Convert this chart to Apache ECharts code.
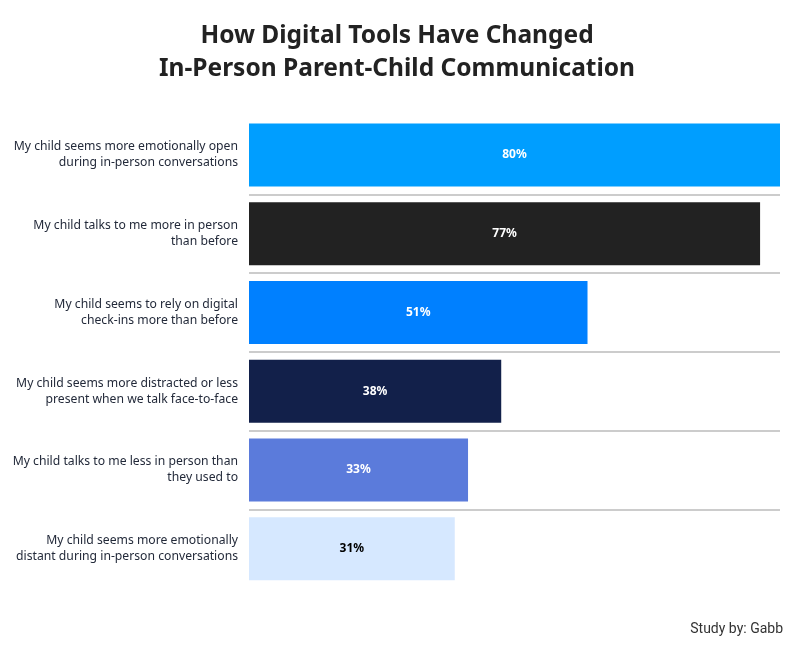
<!DOCTYPE html>
<html>
<head>
<meta charset="utf-8">
<script src="https://cdn.jsdelivr.net/npm/echarts@6/dist/echarts.min.js"></script>
<style>html,body{margin:0;padding:0;background:#fff}#c{width:794px;height:649px}</style>
</head>
<body>
<div id="c"></div>
<script>
const categories = [
  "My child seems more emotionally open\nduring in-person conversations",
  "My child talks to me more in person\nthan before",
  "My child seems to rely on digital\ncheck-ins more than before",
  "My child seems more distracted or less\npresent when we talk face-to-face",
  "My child talks to me less in person than\nthey used to",
  "My child seems more emotionally\ndistant during in-person conversations"
];
const values = [80, 77, 51, 38, 33, 31];
const barColors = ["#009EFF", "#222222", "#0080FF", "#12204A", "#5B7BDB", "#D6E8FF"];
const labelColors = ["#ffffff", "#ffffff", "#ffffff", "#ffffff", "#ffffff", "#000000"];

const chart = echarts.init(document.getElementById('c'), null, {renderer: 'canvas'});
chart.setOption({
  backgroundColor: '#ffffff',
  title: {
    text: 'How Digital Tools Have Changed\nIn-Person Parent-Child Communication',
    left: 'center',
    top: 15,
    textStyle: {
      fontFamily: 'Noto Sans',
      fontWeight: 'bold',
      fontSize: 24.5,
      lineHeight: 33,
      color: '#222222'
    }
  },
  graphic: [{
    type: 'text',
    right: 11,
    top: 622,
    style: {
      text: 'Study by: Gabb',
      font: '14px Roboto',
      fill: '#333333'
    }
  }],
  grid: {left: 249, right: 14, top: 115.6, bottom: 61, containLabel: false},
  xAxis: {
    type: 'value',
    min: 0,
    max: 80,
    show: false
  },
  yAxis: {
    type: 'category',
    inverse: true,
    data: categories,
    axisLine: {show: false},
    axisTick: {show: false},
    axisLabel: {
      margin: 11,
      fontFamily: 'Noto Sans',
      fontSize: 12.2,
      lineHeight: 16,
      color: '#232a3a',
      align: 'right'
    },
    splitLine: {
      show: true,
      showMinLine: false,
      showMaxLine: false,
      lineStyle: {color: '#cccccc', width: 2}
    }
  },
  series: [{
    type: 'bar',
    barCategoryGap: '20%',
    data: values.map((v, i) => ({
      value: v,
      itemStyle: {color: barColors[i]},
      label: {color: labelColors[i]}
    })),
    label: {
      show: true,
      position: 'inside',
      formatter: '{c}%',
      fontFamily: 'Noto Sans',
      fontWeight: 'bold',
      fontSize: 12
    },
    silent: true,
    animation: false
  }],
  animation: false
});
</script>
</body>
</html>
